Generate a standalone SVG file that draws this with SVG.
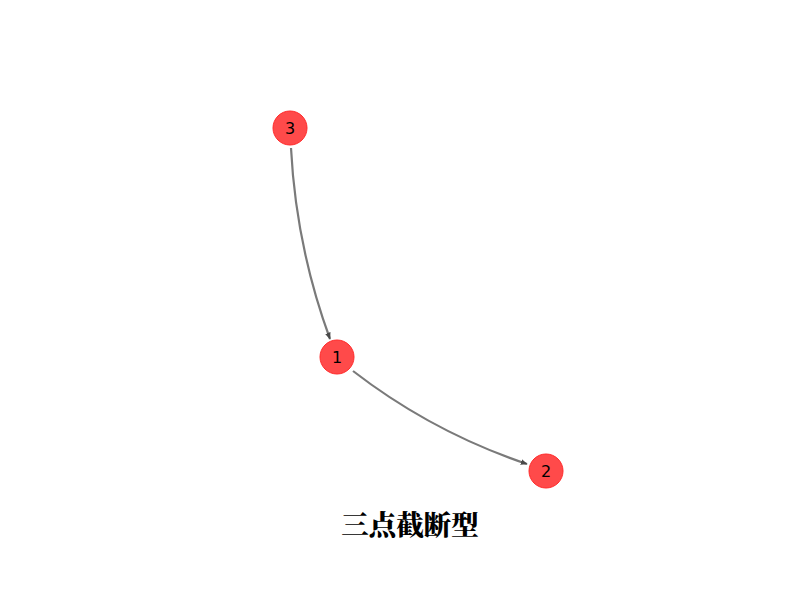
<svg xmlns="http://www.w3.org/2000/svg" width="800" height="600" viewBox="0 0 800 600">
<style>
.node circle{fill:#ff4a4a;stroke:#ff2a2a;stroke-width:1}
.node text{font-family:"DejaVu Sans",sans-serif;font-size:16px;fill:#000;text-anchor:middle;dominant-baseline:central}
.edge{fill:none;stroke:#7a7a7a;stroke-width:2.2}
.title{font-family:"Noto Serif CJK SC","Noto Sans CJK SC",serif;font-weight:900;font-size:27.5px;text-anchor:middle}
</style>
<defs>
<marker id="arr" viewBox="0 0 10 10" refX="9" refY="5" markerWidth="7" markerHeight="7" markerUnits="userSpaceOnUse" orient="auto">
<path d="M0,1 L10,5 L0,9 Z" fill="#4a4a4a"/>
</marker>
</defs>
<rect width="800" height="600" fill="#fff"/>
<g id="edges">
<path class="edge" d="M291,148 Q296,246 330,339" marker-end="url(#arr)"/>
<path class="edge" d="M353,371 Q432,432 527,464" marker-end="url(#arr)"/>
</g>
<g id="node3" class="node"><circle cx="290" cy="128" r="17"/><text x="290" y="128">3</text></g>
<g id="node1" class="node"><circle cx="337" cy="357" r="17"/><text x="337" y="357">1</text></g>
<g id="node2" class="node"><circle cx="546" cy="471" r="17"/><text x="546" y="471">2</text></g>
<text class="title" x="410" y="535">三点截断型</text>
</svg>
